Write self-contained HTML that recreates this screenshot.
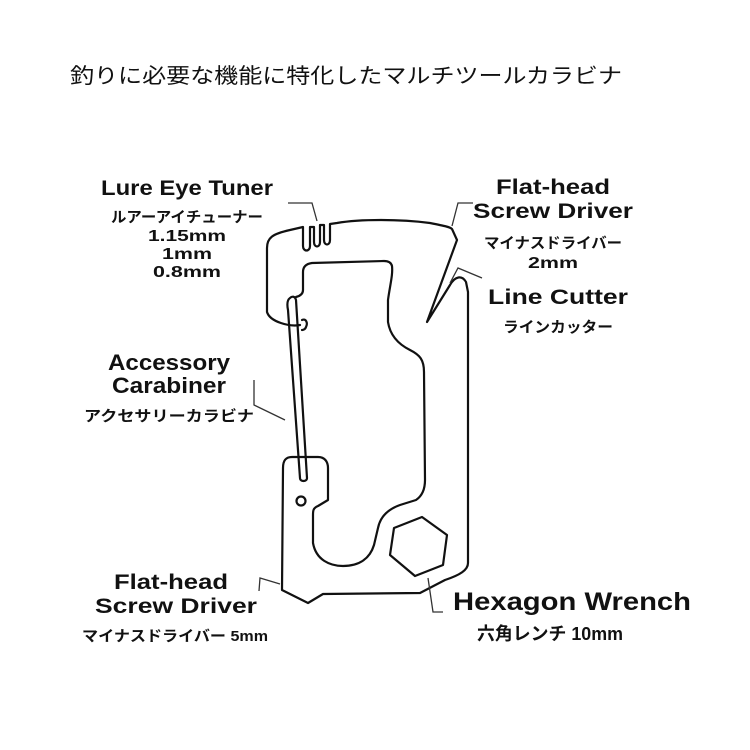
<!DOCTYPE html>
<html><head><meta charset="utf-8"><style>
body{margin:0;background:#fff;}
svg{display:block}
text{font-family:"Liberation Sans","Noto Sans CJK JP",sans-serif;fill:#111;}
.b{font-weight:bold;}
</style></head><body>
<svg width="750" height="750" viewBox="0 0 750 750">
<text x="70" y="83" font-size="21" textLength="552" lengthAdjust="spacingAndGlyphs">釣りに必要な機能に特化したマルチツールカラビナ</text>

<g fill="none" stroke="#111" stroke-width="2.2" stroke-linejoin="round" stroke-linecap="round">
<path d="M300,325 C290,327 270,322 267,312 L267,248 C267,238 272,234 290,230 L303,227 L303,246 C303,252 310,252 310,246 L310,227 L314,227 L314,242 C314,248 320,248 320,242 L320,225 L324,225 L324,240 C324,246 330,246 330,240 L330,224 L337,223 C360,219 400,219 430,223 C445,226 450,227 452,229 L457,240 L427,322 L450,285 C455,276 462,275 466,282 L468,292 L468,563 C468,570 460,575 445,580 L420,593 L323,594 L308,603 L282,590 L283,468 C283,460 286,457 292,457 L318,457 C325,457 328,462 328,468 L328,500 L318,506 C313,508 313,511 313,515 L313,543 C316,560 330,566 343,566 C360,566 370,558 374,545 L378,528 C380,518 386,510 400,505 L416,500 C422,496 425,490 425,480 L424,372 C424,360 420,355 410,350 C398,344 390,335 388,322 L388,300 C390,285 393,275 392,266 C391,262 388,261 384,261 L312,263 C305,264 303,268 303,272 L303,290 C303,294 300,296 296,297"/>
<path d="M290,298 C287,300 287,305 288,310 L300,478 C300,482 307,482 307,478 L296,300 C295,296 292,296 290,298 Z"/>
<path d="M302,320 C306,318 308,323 306,327 C305,330 302,330 302,330"/>
<circle cx="301" cy="501" r="4.5"/>
<path d="M422,517 L447,535 L443,565 L415,576 L390,555 L394,528 Z"/>
</g>

<g fill="none" stroke="#333" stroke-width="1.3">
<path d="M288,203 L312,203 L317,221"/>
<path d="M473,203 L458,203 L452,226"/>
<path d="M482,278 L458,268 L450,283"/>
<path d="M254,380 L254,405 L285,420"/>
<path d="M259,591 L260,578 L280,584"/>
<path d="M428,578 L433,612 L443,612"/>
</g>

<g class="b" text-anchor="middle">
<text x="187" y="195" font-size="21" textLength="172" lengthAdjust="spacingAndGlyphs">Lure Eye Tuner</text>
<text x="187" y="222" font-size="15" textLength="152" lengthAdjust="spacingAndGlyphs">ルアーアイチューナー</text>
<text x="187" y="241" font-size="16" textLength="78" lengthAdjust="spacingAndGlyphs">1.15mm</text>
<text x="187" y="259" font-size="16" textLength="50" lengthAdjust="spacingAndGlyphs">1mm</text>
<text x="187" y="277" font-size="16" textLength="68" lengthAdjust="spacingAndGlyphs">0.8mm</text>
<text x="169" y="370" font-size="22" textLength="122" lengthAdjust="spacingAndGlyphs">Accessory</text>
<text x="169" y="393" font-size="22" textLength="114" lengthAdjust="spacingAndGlyphs">Carabiner</text>
<text x="169" y="421" font-size="15" textLength="170" lengthAdjust="spacingAndGlyphs">アクセサリーカラビナ</text>

<text x="553" y="194" font-size="21" textLength="114" lengthAdjust="spacingAndGlyphs">Flat-head</text>
<text x="553" y="218" font-size="21" textLength="160" lengthAdjust="spacingAndGlyphs">Screw Driver</text>
<text x="553" y="248" font-size="15" textLength="138" lengthAdjust="spacingAndGlyphs">マイナスドライバー</text>
<text x="553" y="268" font-size="16" textLength="50" lengthAdjust="spacingAndGlyphs">2mm</text>
<text x="558" y="304" font-size="21" textLength="140" lengthAdjust="spacingAndGlyphs">Line Cutter</text>
<text x="558" y="332" font-size="15" textLength="110" lengthAdjust="spacingAndGlyphs">ラインカッター</text>

<text x="171" y="589" font-size="21" textLength="114" lengthAdjust="spacingAndGlyphs">Flat-head</text>
<text x="176" y="613" font-size="21" textLength="162" lengthAdjust="spacingAndGlyphs">Screw Driver</text>
<text x="175" y="641" font-size="15" textLength="186" lengthAdjust="spacingAndGlyphs">マイナスドライバー 5mm</text>

<text x="572" y="610" font-size="25" textLength="238" lengthAdjust="spacingAndGlyphs">Hexagon Wrench</text>
<text x="550" y="640" font-size="18" textLength="146" lengthAdjust="spacingAndGlyphs">六角レンチ 10mm</text>
</g>
</svg>
</body></html>
